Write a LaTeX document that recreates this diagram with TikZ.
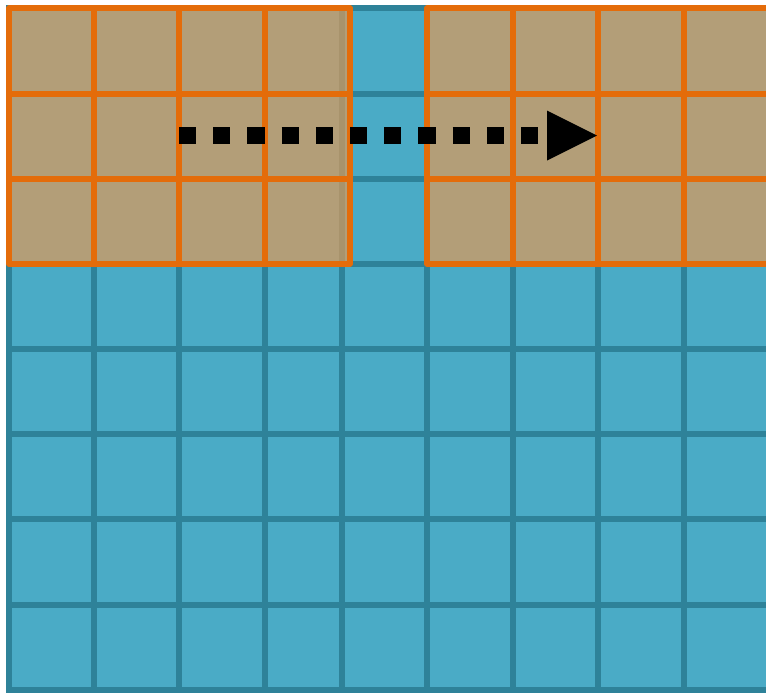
\documentclass[tikz,border=0pt]{standalone}
\definecolor{cellblue}{RGB}{74,171,198}
\definecolor{gridteal}{RGB}{46,130,153}
\definecolor{tanfill}{RGB}{179,158,120}
\definecolor{tanshade}{RGB}{168,147,108}
\definecolor{orangeedge}{RGB}{228,108,10}
\begin{document}
\begin{tikzpicture}[x=1pt,y=-1pt,
  blueline/.style={draw=gridteal,line width=6pt,line cap=rect},
  orangeline/.style={draw=orangeedge,line width=5.6pt,line join=round,line cap=round},
  dotline/.style={draw=black,line width=17pt,dash pattern=on 17.1pt off 17.1pt},
]
\useasboundingbox (0,0) rectangle (766,694);
\begin{scope}
\clip (0,0) rectangle (766,694);
% blue grid
\fill[cellblue] (9,8) rectangle (780,690);
\foreach \x in {9,94,179,265,342,427,513,598,684}
  \draw[blueline] (\x,8) -- (\x,690);
\foreach \y in {8,94,179,264,349,434,519,605,690}
  \draw[blueline] (9,\y) -- (780,\y);
% left tan block
\fill[tanfill] (9,8) rectangle (350,264);
\draw[tanshade,line width=6pt] (342,8) -- (342,264);
\foreach \x in {94,179,265}
  \draw[orangeline] (\x,8) -- (\x,264);
\foreach \y in {94,179}
  \draw[orangeline] (9,\y) -- (350,\y);
\draw[orangeline] (9,8) rectangle (350,264);
% right tan block
\fill[tanfill] (427,8) rectangle (780,264);
\foreach \x in {513,598,684}
  \draw[orangeline] (\x,8) -- (\x,264);
\foreach \y in {94,179}
  \draw[orangeline] (427,\y) -- (780,\y);
\draw[orangeline] (780,8) -- (427,8) -- (427,264) -- (780,264);
\end{scope}
% arrow
\coordinate (s) at (179,135.5);
\coordinate (h) at (547,135.5);
\coordinate (t) at (597,135.5);
\draw[dotline] (s) -- (h);
\fill[black] ([yshift=25pt]h) -- (t) -- ([yshift=-25pt]h) -- cycle;
\end{tikzpicture}
\end{document}
